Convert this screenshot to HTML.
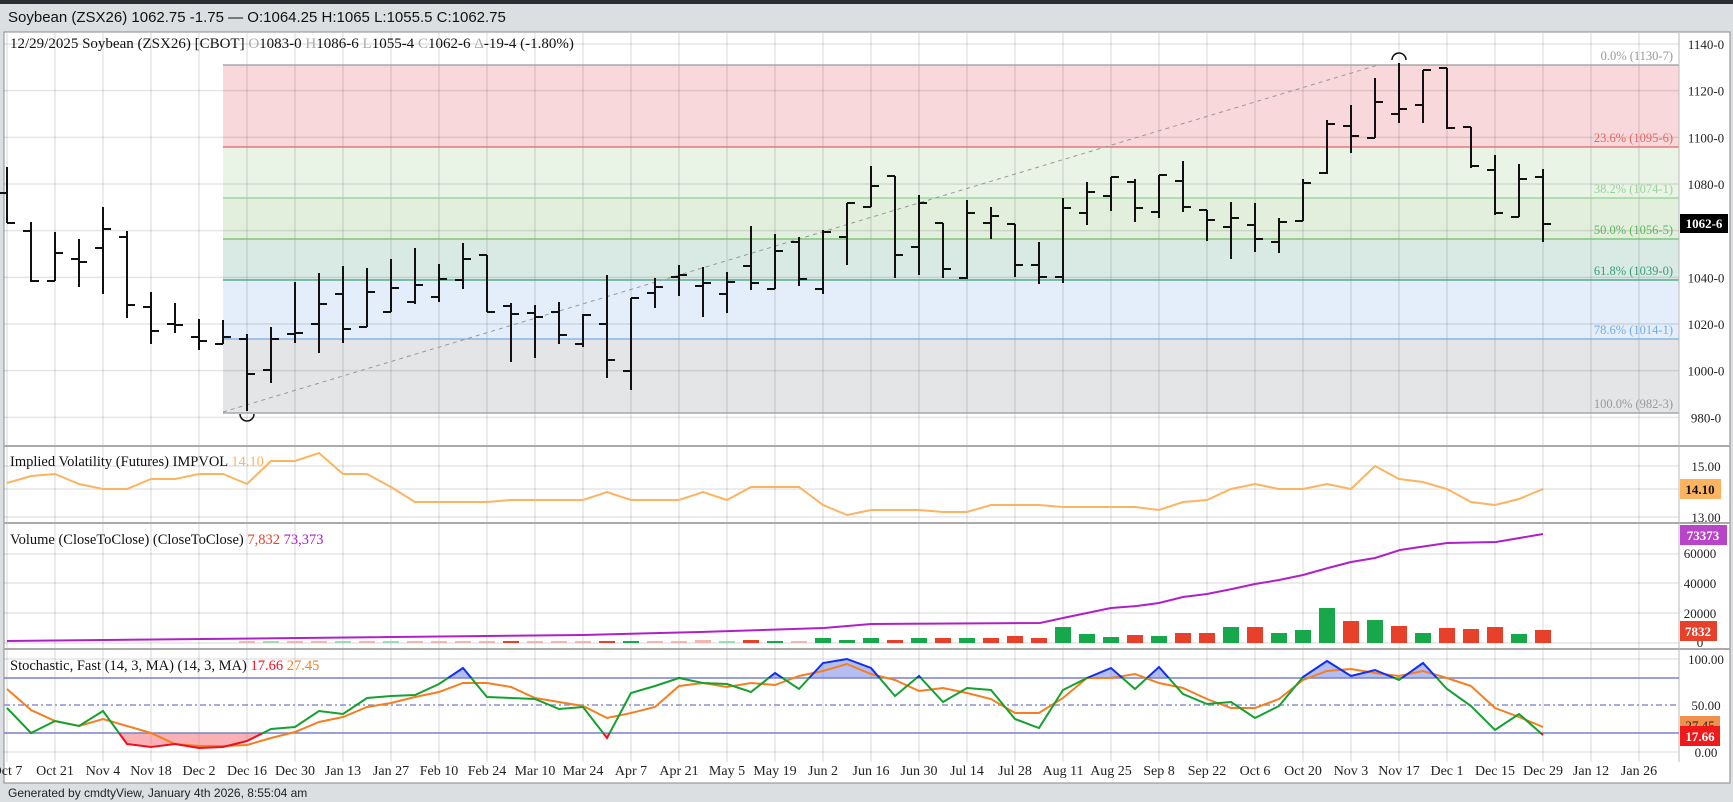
<!DOCTYPE html>
<html><head><meta charset="utf-8"><style>
html,body{margin:0;padding:0;background:#dcdfe2;}
svg{display:block}
text{font-family:"Liberation Serif",serif;}
.s{font-family:"Liberation Sans",sans-serif;}
</style></head><body>
<svg id="c" width="1733" height="802" xmlns="http://www.w3.org/2000/svg">
<rect x="0" y="0" width="1733" height="802" fill="#dcdfe2"/>
<rect x="0" y="0" width="1733" height="4" fill="#2b2f33"/>
<text class="s" x="8" y="22" font-size="15" fill="#111">Soybean (ZSX26) 1062.75 -1.75 — O:1064.25 H:1065 L:1055.5 C:1062.75</text>
<rect x="4" y="32" width="1726" height="751" fill="#fff" stroke="#888" stroke-width="1"/>
<g id="g"></g>
</svg>
<script>
const NS="http://www.w3.org/2000/svg",G=document.getElementById('g');
function el(t,a,txt){const e=document.createElementNS(NS,t);for(const k in a)e.setAttribute(k,a[k]);if(txt!==undefined)e.textContent=txt;G.appendChild(e);return e;}
const X=i=>7+24*i, R=1679;
const py=p=>44+(1140-p)*2.3333;
const bands=[[65,147,'#f8d8db'],[147,198,'#e9f3e6'],[198,239,'#e1efdc'],[239,280,'#d9e9e3'],[280,339,'#e3eefa'],[339,413,'#e4e5e7']];
bands.forEach(b=>el('rect',{x:223,y:b[0],width:R-223,height:b[1]-b[0],fill:b[2]}));
for(let p=980;p<=1140;p+=20)el('line',{x1:4,x2:R,y1:py(p),y2:py(p),stroke:'rgba(0,0,0,0.1)','stroke-width':1.5});
[466,489,517].forEach(y=>el('line',{x1:4,x2:R,y1:y,y2:y,stroke:'rgba(0,0,0,0.1)','stroke-width':1.5}));
[643,613,583,554].forEach(y=>el('line',{x1:4,x2:R,y1:y,y2:y,stroke:'rgba(0,0,0,0.1)','stroke-width':1.5}));
[659,752].forEach(y=>el('line',{x1:4,x2:R,y1:y,y2:y,stroke:'rgba(0,0,0,0.1)','stroke-width':1.5}));
const labs=['Oct 7','Oct 21','Nov 4','Nov 18','Dec 2','Dec 16','Dec 30','Jan 13','Jan 27','Feb 10','Feb 24','Mar 10','Mar 24','Apr 7','Apr 21','May 5','May 19','Jun 2','Jun 16','Jun 30','Jul 14','Jul 28','Aug 11','Aug 25','Sep 8','Sep 22','Oct 6','Oct 20','Nov 3','Nov 17','Dec 1','Dec 15','Dec 29','Jan 12','Jan 26'];
labs.forEach((l,k)=>{const x=7+48*k;el('line',{x1:x,x2:x,y1:33,y2:762,stroke:'rgba(0,0,0,0.1)','stroke-width':1.5});el('text',{x:x,y:775,'font-size':14,'text-anchor':'middle',fill:'#222'},l);});
[[65,'#999'],[147,'#e06666'],[198,'#8fd18f'],[239,'#6cbf6c'],[280,'#3a9e7a'],[339,'#7aaae0'],[413,'#999']].forEach(l=>el('line',{x1:223,x2:R,y1:l[0],y2:l[0],stroke:l[1],'stroke-width':1.3}));
[[60,'0.0% (1130-7)','#999'],[142,'23.6% (1095-6)','#e06666'],[193,'38.2% (1074-1)','#9ad49a'],[234,'50.0% (1056-5)','#5fb35f'],[275,'61.8% (1039-0)','#3a9e7a'],[334,'78.6% (1014-1)','#7aaae0'],[408,'100.0% (982-3)','#999']].forEach(l=>el('text',{x:1673,y:l[0],'font-size':12.5,'text-anchor':'end',fill:l[2]},l[1]));
el('line',{x1:223,y1:412,x2:1378,y2:65,stroke:'#999','stroke-width':1,'stroke-dasharray':'4,4'});
const B=[[167,223,193,223],[222,282,231,281],[232,281,281,253],[239,287,259,262],[207,294,248,229],[231,318,237,305],[292,344,307,331],[303,333,324,325],[319,350,337,341],[320,344,344,337],[334,411,339,374],[327,383,370,339],[282,343,334,333],[273,353,324,304],[266,343,294,329],[268,327,327,292],[259,312,312,288],[248,304,302,285],[264,302,297,279],[243,289,280,259],[255,312,255,312],[303,362,306,314],[305,358,313,317],[302,344,312,335],[314,347,344,315],[275,378,324,360],[298,390,371,298],[278,308,293,287],[265,296,277,275],[267,317,286,283],[272,313,294,282],[226,290,266,283],[234,289,289,251],[237,286,242,279],[230,294,289,232],[203,265,237,203],[166,207,207,186],[176,278,176,255],[195,275,247,203],[223,278,223,269],[200,279,278,213],[207,239,223,216],[224,277,224,265],[242,284,265,277],[198,283,277,208],[182,225,213,192],[177,211,196,177],[179,222,182,208],[175,218,212,175],[161,212,181,207],[210,241,210,220],[202,259,227,218],[203,252,225,239],[218,253,242,222],[179,221,221,183],[120,174,173,124],[105,153,126,136],[78,138,138,102],[63,123,114,109],[70,123,105,70],[68,129,68,128],[127,168,127,166],[155,215,170,213],[164,217,217,179],[169,242,177,224]];
B.forEach((b,i)=>{const x=X(i);el('line',{x1:x,x2:x,y1:b[0],y2:b[1],stroke:'#111','stroke-width':2});el('line',{x1:x-8,x2:x,y1:b[2],y2:b[2],stroke:'#111','stroke-width':2});el('line',{x1:x,x2:x+8,y1:b[3],y2:b[3],stroke:'#111','stroke-width':2});});
el('path',{d:'M1392,60 A7,7 0 0 1 1406,60',fill:'none',stroke:'#111','stroke-width':1.5});
el('path',{d:'M240,414 A7,7 0 0 0 254,414',fill:'none',stroke:'#111','stroke-width':1.5});
el('text',{x:10,y:48,'font-size':15,fill:'#111'},'').innerHTML='12/29/2025 Soybean (ZSX26) [CBOT] <tspan fill="#aaa">O</tspan>1083-0 <tspan fill="#aaa">H</tspan>1086-6 <tspan fill="#aaa">L</tspan>1055-4 <tspan fill="#aaa">C</tspan>1062-6 <tspan fill="#aaa">Δ</tspan>-19-4 (-1.80%)';
[446,523,649].forEach(y=>el('line',{x1:4,x2:1730,y1:y,y2:y,stroke:'#aaa','stroke-width':2}));
el('line',{x1:R,x2:R,y1:33,y2:762,stroke:'#bbb','stroke-width':1});
for(let p=980;p<=1140;p+=20){if(p==1060)continue;el('text',{x:1706,y:py(p)+5,'font-size':13,'text-anchor':'middle',fill:'#222'},p+'-0');}
el('rect',{x:1680,y:214,width:48,height:19,fill:'#000'});
el('text',{x:1704,y:228,'font-size':13,'text-anchor':'middle',fill:'#fff','font-weight':'bold'},'1062-6');
const IV=[483,476,474,484,489,489,479,479,474,474,484,461,461,453,474,474,487,502,502,502,502,500,500,500,500,492,500,500,500,492,500,487,487,487,505,515,510,510,510,512,512,505,505,505,507,507,507,507,510,502,500,489,484,489,489,484,489,466,479,482,489,502,505,499,489];
el('polyline',{points:IV.map((y,i)=>X(i)+','+y).join(' '),fill:'none',stroke:'#fdb462','stroke-width':2});
el('text',{x:10,y:466,'font-size':14.5,fill:'#111'}).innerHTML='Implied Volatility (Futures)  IMPVOL <tspan fill="#fdb462">14.10</tspan>';
el('text',{x:1706,y:471,'font-size':13,'text-anchor':'middle',fill:'#222'},'15.00');
el('text',{x:1706,y:522,'font-size':13,'text-anchor':'middle',fill:'#222'},'13.00');
el('rect',{x:1680,y:479,width:41,height:20,fill:'#fdb462'});
el('text',{x:1700,y:494,'font-size':13,'text-anchor':'middle',fill:'#111','font-weight':'bold'},'14.10');
const VB=[[703,640,'#f4b6b0'],[727,641,'#9fdcb3'],[751,640,'#e8412b'],[775,641,'#16a84a'],[799,641,'#f4b6b0'],[823,638,'#16a84a'],[847,640,'#16a84a'],[871,638,'#16a84a'],[895,640,'#e8412b'],[919,638,'#16a84a'],[943,638,'#e8412b'],[967,638,'#16a84a'],[991,638,'#e8412b'],[1015,636,'#e8412b'],[1039,638,'#e8412b'],[1063,627,'#16a84a'],[1087,634,'#16a84a'],[1111,637,'#16a84a'],[1135,635,'#e8412b'],[1159,636,'#16a84a'],[1183,633,'#e8412b'],[1207,633,'#e8412b'],[1231,627,'#16a84a'],[1255,627,'#e8412b'],[1279,633,'#16a84a'],[1303,630,'#16a84a'],[1327,608,'#16a84a'],[1351,621,'#e8412b'],[1375,620,'#16a84a'],[1399,626,'#e8412b'],[1423,633,'#16a84a'],[1447,628,'#e8412b'],[1471,629,'#e8412b'],[1495,627,'#e8412b'],[1519,634,'#16a84a'],[1543,630,'#e8412b']];
for(let i=10;i<29;i++){const c=[1,4,9,11,14,16].includes(i)?'#9fdcb3':'#f4b6b0';VB.unshift([X(i),641,i==21||i==25?'#e8412b':(i==26?'#16a84a':c)]);}
VB.forEach(v=>el('rect',{x:v[0]-8,y:v[1],width:16,height:643-v[1],fill:v[2]}));
const OI=[[7,641],[300,638],[583,635],[700,632],[824,628],[871,624],[1040,623],[1063,618],[1087,613],[1111,608],[1137,606],[1159,603],[1183,597],[1207,594],[1232,589],[1255,584],[1279,580],[1303,575],[1328,568],[1351,562],[1375,558],[1400,550],[1447,543],[1496,542],[1543,534]];
el('polyline',{points:OI.map(p=>p.join(',')).join(' '),fill:'none',stroke:'#b020c8','stroke-width':2});
el('text',{x:10,y:544,'font-size':14.5,fill:'#111'}).innerHTML='Volume (CloseToClose)  (CloseToClose) <tspan fill="#e8412b">7,832</tspan> <tspan fill="#b020c8">73,373</tspan>';
[[60000,558],[40000,588],[20000,618],[0,647]].forEach(t=>el('text',{x:1700,y:t[1],'font-size':13,'text-anchor':'middle',fill:'#222'},String(t[0])));
el('rect',{x:1680,y:525,width:47,height:20,fill:'#b845c8'});
el('text',{x:1703,y:540,'font-size':13,'text-anchor':'middle',fill:'#fff','font-weight':'bold'},'73373');
el('rect',{x:1680,y:621,width:37,height:20,fill:'#e8412b'});
el('text',{x:1698,y:636,'font-size':13,'text-anchor':'middle',fill:'#fff','font-weight':'bold'},'7832');
const K=[708,733,721,726,711,744,747,744,748,747,741,729,727,711,714,698,696,695,684,668,697,698,699,709,707,738,693,686,678,683,684,692,673,689,663,659,668,696,676,702,688,690,719,728,690,678,668,689,667,694,704,702,718,706,677,661,676,670,680,663,689,706,730,714,735];
const D=[689,710,721,726,719,726,733,744,746,746,745,738,732,722,717,707,703,697,692,683,683,687,698,702,706,718,713,707,686,683,687,683,685,676,671,664,674,680,691,688,693,699,713,713,698,678,678,674,683,688,699,708,708,699,680,671,669,673,676,671,678,686,708,717,727];
const kp=K.map((y,i)=>X(i)+','+y).join(' ');
const defs=el('defs',{});
defs.innerHTML='<clipPath id="cu"><rect x="0" y="600" width="1733" height="78"/></clipPath><clipPath id="cl"><rect x="0" y="733" width="1733" height="40"/></clipPath><clipPath id="cm"><rect x="0" y="678" width="1733" height="55"/></clipPath>';
el('polygon',{points:X(0)+',678 '+kp+' '+X(64)+',678',fill:'rgba(90,110,230,0.45)','clip-path':'url(#cu)'});
el('polygon',{points:X(0)+',733 '+kp+' '+X(64)+',733',fill:'rgba(245,100,110,0.5)','clip-path':'url(#cl)'});
el('line',{x1:4,x2:R,y1:678,y2:678,stroke:'#7a80c8','stroke-width':1.5});
el('line',{x1:4,x2:R,y1:733,y2:733,stroke:'#7a80c8','stroke-width':1.5});
el('line',{x1:4,x2:R,y1:705,y2:705,stroke:'#8a90d0','stroke-width':1.5,'stroke-dasharray':'6,3,2,3'});
el('polyline',{points:D.map((y,i)=>X(i)+','+y).join(' '),fill:'none',stroke:'#f57f20','stroke-width':2});
el('polyline',{points:kp,fill:'none',stroke:'#16a030','stroke-width':2,'clip-path':'url(#cm)'});
el('polyline',{points:kp,fill:'none',stroke:'#1030f0','stroke-width':2,'clip-path':'url(#cu)'});
el('polyline',{points:kp,fill:'none',stroke:'#f01020','stroke-width':2,'clip-path':'url(#cl)'});
el('text',{x:10,y:670,'font-size':14.5,fill:'#111'}).innerHTML='Stochastic, Fast (14, 3, MA)  (14, 3, MA) <tspan fill="#f01020">17.66</tspan> <tspan fill="#f57f20">27.45</tspan>';
[['100.00',664],['50.00',710],['0.00',757]].forEach(t=>el('text',{x:1706,y:t[1],'font-size':13,'text-anchor':'middle',fill:'#222'},t[0]));
el('rect',{x:1680,y:716,width:40,height:18,fill:'#f0904a'});
el('text',{x:1700,y:730,'font-size':13,'text-anchor':'middle',fill:'#222'},'27.45');
el('rect',{x:1680,y:726,width:40,height:20,fill:'#f01a1a'});
el('text',{x:1700,y:741,'font-size':13,'text-anchor':'middle',fill:'#fff','font-weight':'bold'},'17.66');
el('text',{x:8,y:797,'font-size':12,fill:'#222',class:'s'},'Generated by cmdtyView, January 4th 2026, 8:55:04 am');
</script>
</body></html>
